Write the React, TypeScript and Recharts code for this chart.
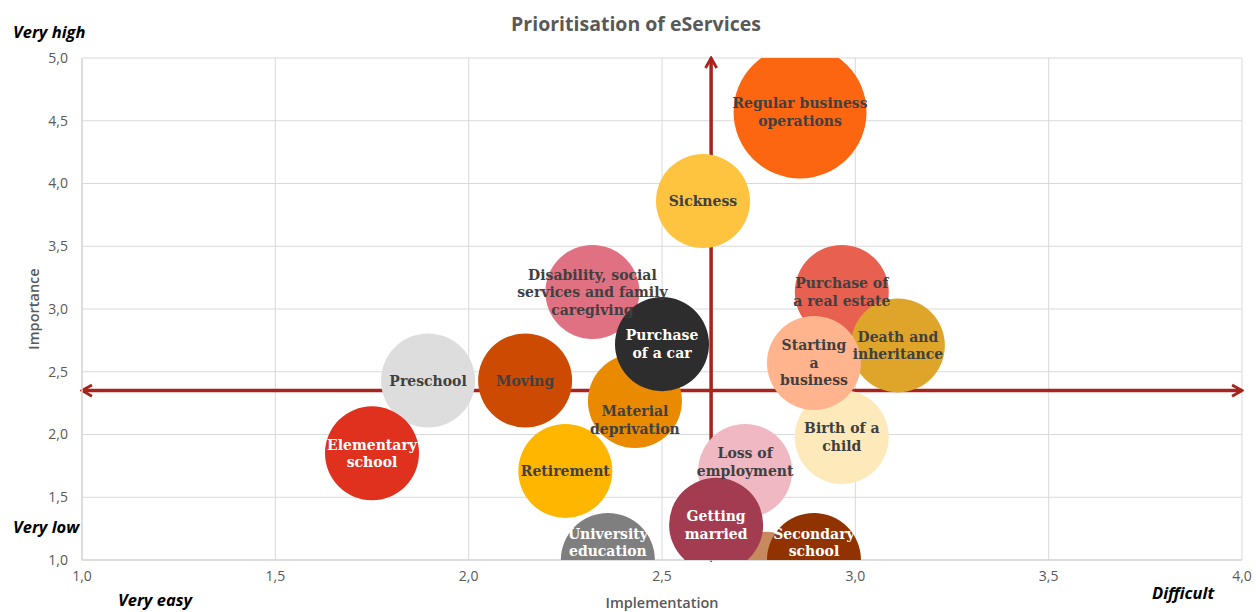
import React from 'react';
import {
  ScatterChart,
  Scatter,
  XAxis,
  YAxis,
  ZAxis,
  CartesianGrid,
  Cell,
  ReferenceLine,
  Label,
} from 'recharts';

// ---------- data ----------
const services = [
  'Sickness',
  'Regular business\noperations',
  'Disability, social\nservices and family\ncaregiving',
  'Preschool',
  'Moving',
  'Material\ndeprivation',
  'Purchase\nof a car',
  'Elementary\nschool',
  'Retirement',
  'University\neducation',
  'Loss of\nemployment',
  '',
  'Getting\nmarried',
  'Secondary\nschool',
  'Purchase of\na real estate',
  'Death and\ninheritance',
  'Birth of a\nchild',
  'Starting\na\nbusiness',
];
const implementation = [2.606, 2.857, 2.32, 1.895, 2.146, 2.43, 2.5, 1.75, 2.25, 2.36, 2.715, 2.77, 2.64, 2.893, 2.965, 3.11, 2.965, 2.893];
const importance = [3.86, 4.57, 3.135, 2.43, 2.43, 2.267, 2.72, 1.85, 1.71, 1.0, 1.71, 0.85, 1.28, 1.0, 3.135, 2.71, 1.98, 2.57];
const bubbleSize = [1, 2, 1, 1, 1, 1, 1, 1, 1, 1, 1, 1, 1, 1, 1, 1, 1, 1];

const xTicks = [1, 1.5, 2, 2.5, 3, 3.5, 4];
const yTicks = [1, 1.5, 2, 2.5, 3, 3.5, 4, 4.5, 5];
const medianImplementation = 2.627;
const medianImportance = 2.35;

// ---------- styles ----------
const bubbleColors = [
  '#FEC440', '#FD6611', '#E07183', '#DDDDDD', '#CC4A02', '#E98A00', '#2D2D2D', '#E0301E', '#FFB600',
  '#7F7F7F', '#EFB8C3', '#C68A5E', '#A33B51', '#913300', '#E86150', '#DFA52B', '#FEE9BA', '#FFB48D',
];
const whiteLabels = new Set(['Purchase\nof a car', 'Elementary\nschool', 'University\neducation', 'Getting\nmarried', 'Secondary\nschool']);
const labelShift: Record<string, number> = { 'Material\ndeprivation': 19, 'Loss of\nemployment': -9 };

const W = 1256;
const H = 612;
const MARGIN = { top: 58, right: 14, bottom: 0, left: 30 };
const X_AXIS_H = 52;
const Y_AXIS_W = 52;
const PLOT_BOTTOM = H - MARGIN.bottom - X_AXIS_H;
const LINE_H = 17.5;
const ARROW = '#A8231C';
const GRAY = '#595959';

const points = services.map((name, i) => ({ name, x: implementation[i], y: importance[i], z: bubbleSize[i] }));

const fmt = (v: number) => v.toFixed(1).replace('.', ',');

const renderLabel = (props: any) => {
  const { cx, cy, payload } = props;
  const name: string = payload?.name ?? '';
  if (!name) return <g />;
  const lines = name.split('\n');
  const half = (lines.length * LINE_H) / 2;
  let center = cy + (labelShift[name] || 0);
  if (center + half > PLOT_BOTTOM) center = PLOT_BOTTOM - half;
  const color = whiteLabels.has(name) ? '#FFFFFF' : '#404040';
  return (
    <text
      x={cx}
      textAnchor="middle"
      fontFamily="'DejaVu Serif', Georgia, serif"
      fontWeight="bold"
      fontSize={14}
      fill={color}
    >
      {lines.map((l, i) => (
        <tspan key={i} x={cx} y={center - half + LINE_H * (i + 0.5)} dominantBaseline="central">
          {l}
        </tspan>
      ))}
    </text>
  );
};

const arrowShape = (id: string) => (props: any) => {
  const { x1, y1, x2, y2 } = props;
  return (
    <g>
      <defs>
        <marker
          id={id}
          viewBox="0 0 10 10"
          refX={8.6}
          refY={5}
          markerWidth={4}
          markerHeight={4.4}
          orient="auto-start-reverse"
          markerUnits="strokeWidth"
        >
          <path d="M1.5,1 L8.6,5 L1.5,9" fill="none" stroke={ARROW} strokeWidth={2} strokeLinejoin="miter" />
        </marker>
      </defs>
      <line
        x1={x1}
        y1={y1}
        x2={x2}
        y2={y2}
        stroke={ARROW}
        strokeWidth={3.5}
        markerStart={`url(#${id})`}
        markerEnd={`url(#${id})`}
      />
    </g>
  );
};

const cornerStyle: React.CSSProperties = {
  position: 'absolute',
  fontFamily: "'Open Sans', sans-serif",
  fontWeight: 700,
  fontStyle: 'italic',
  fontSize: 16.5,
  lineHeight: '18px',
  color: '#000',
  transform: 'translateY(-50%)',
  whiteSpace: 'nowrap',
};

export default function App() {
  return (
    <div style={{ position: 'absolute', left: 0, top: 0, width: W, height: H, background: '#fff' }}>
      <ScatterChart width={W} height={H} margin={MARGIN}>
        <CartesianGrid stroke="#D9D9D9" strokeWidth={1} />
        <XAxis
          type="number"
          dataKey="x"
          domain={[1, 4]}
          ticks={xTicks}
          allowDataOverflow
          tickFormatter={fmt}
          height={X_AXIS_H}
          axisLine={{ stroke: '#D9D9D9', strokeWidth: 1.5 }}
          tickLine={false}
          tickMargin={5}
          tick={{ fill: GRAY, fontSize: 14, fontFamily: "'Open Sans', sans-serif" }}
        >
          <Label
            value="Implementation"
            position="insideBottom"
            offset={4}
            fill={GRAY}
            fontSize={14.5}
            fontWeight={600}
            fontFamily="'Open Sans', sans-serif"
          />
        </XAxis>
        <YAxis
          type="number"
          dataKey="y"
          domain={[1, 5]}
          ticks={yTicks}
          allowDataOverflow
          tickFormatter={fmt}
          width={Y_AXIS_W}
          axisLine={{ stroke: '#D9D9D9', strokeWidth: 1.5 }}
          tickLine={false}
          tickMargin={8}
          tick={{ fill: GRAY, fontSize: 14, fontFamily: "'Open Sans', sans-serif" }}
        >
          <Label
            content={(p: any) => {
              const vb = p.viewBox || {};
              const x = (vb.x ?? 30) + 3;
              const y = (vb.y ?? 58) + (vb.height ?? 502) / 2;
              return (
                <text
                  x={x}
                  y={y}
                  transform={`rotate(-90, ${x}, ${y})`}
                  textAnchor="middle"
                  dominantBaseline="central"
                  fill={GRAY}
                  fontSize={14.5}
                  fontWeight={600}
                  fontFamily="'Open Sans', sans-serif"
                >
                  Importance
                </text>
              );
            }}
          />
        </YAxis>
        <ZAxis type="number" dataKey="z" domain={[0, 2]} range={[0, 13880]} />
        <Scatter data={points} isAnimationActive={false}>
          {points.map((p, i) => (
            <Cell key={i} fill={bubbleColors[i]} />
          ))}
        </Scatter>
        <ReferenceLine y={medianImportance} shape={arrowShape('arrH')} />
        <ReferenceLine x={medianImplementation} shape={arrowShape('arrV')} />
        <Scatter data={points} isAnimationActive={false} shape={renderLabel} legendType="none" />
      </ScatterChart>

      <div
        style={{
          position: 'absolute',
          left: 636,
          top: 23,
          transform: 'translate(-50%, -50%)',
          fontFamily: "'Open Sans', sans-serif",
          fontWeight: 700,
          fontSize: 19.5,
          color: GRAY,
          whiteSpace: 'nowrap',
        }}
      >
        Prioritisation of eServices
      </div>
      <div style={{ ...cornerStyle, left: 13, top: 32 }}>Very high</div>
      <div style={{ ...cornerStyle, left: 13, top: 527 }}>Very low</div>
      <div style={{ ...cornerStyle, left: 118, top: 600 }}>Very easy</div>
      <div style={{ ...cornerStyle, left: 1152, top: 593 }}>Difficult</div>
    </div>
  );
}
